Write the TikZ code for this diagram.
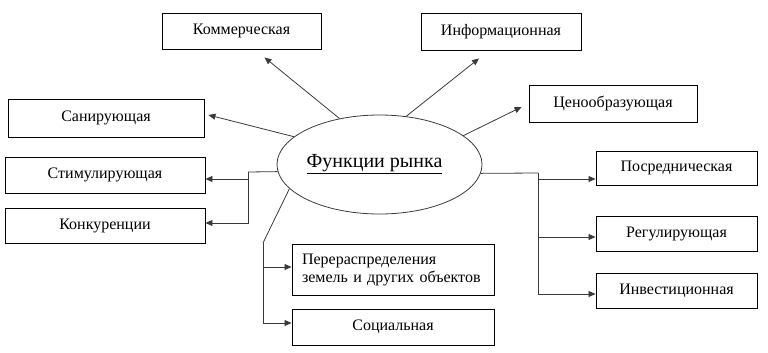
\documentclass[tikz,border=0pt]{standalone}
\usepackage{fontspec}
\setmainfont{Liberation Serif}
\usetikzlibrary{arrows.meta,shapes.geometric}
\definecolor{fnLine}{HTML}{3A3A3A}

\begin{document}
\begin{tikzpicture}[x=1pt, y=-1pt,
    b/.style={draw=black, line width=0.9pt, fill=white, inner sep=2pt,
      font=\fontsize{16}{18}\selectfont, align=center},
    ln/.style={draw=fnLine, line width=0.8pt},
    arr/.style={ln, -{Triangle[length=7pt,width=6pt]}}]
  \useasboundingbox (0,0) rectangle (768,353);
  \node[draw=fnLine, line width=0.8pt, ellipse, minimum width=205pt, minimum height=99pt,
    inner sep=0pt, font=\fontsize{20}{22}\selectfont] (fn) at (379.5,164.5)
    {\hspace*{-10pt}\raisebox{3pt}{\underline{Функции рынка}}};
  \node[b, minimum width=159pt, minimum height=36pt] (kom) at (241.5,31) {Коммерческая};
  \node[b, minimum width=160pt, minimum height=37pt] (inf) at (501,31.5) {Информационная};
  \node[b, minimum width=168pt, minimum height=37pt] (cen) at (613,103.5) {Ценообразующая};
  \node[b, minimum width=196pt, minimum height=38pt] (san) at (106,118) {Санирующая};
  \node[b, minimum width=200pt, minimum height=36pt] (stim) at (105,175) {Стимулирующая};
  \node[b, minimum width=200pt, minimum height=35pt] (konk) at (105,225.5) {Конкуренции};
  \node[b, minimum width=202pt, minimum height=51pt, align=left, text width=182pt] (pere) at (393,269.5)
    {Перераспределения\\земель и других объектов};
  \node[b, minimum width=202pt, minimum height=36pt] (soc) at (393,327) {Социальная};
  \node[b, minimum width=161pt, minimum height=34pt] (posr) at (676.5,168) {Посредническая};
  \node[b, minimum width=161pt, minimum height=35pt] (reg) at (676.5,233.5) {Регулирующая};
  \node[b, minimum width=161pt, minimum height=35pt] (inv) at (676.5,290.5) {Инвестиционная};
  \coordinate (lj) at (248,172);
  \coordinate (bj) at (263,243);
  \coordinate (rj) at (538,173);
  \draw[arr] (fn.131) -- ([shift={(23,8)}]kom.south);
  \draw[arr] (fn.61) -- ([shift={(-22,8)}]inf.south);
  \draw[arr] (fn.19) -- ([shift={(-7,3.5)}]cen.west);
  \draw[arr] (fn.162) -- ([shift={(4,-3)}]san.east);
  \draw[ln] (fn.184) -- (lj);
  \draw[arr] (lj) |- ([shift={(0,4)}]stim.east);
  \draw[arr] (lj) |- ([shift={(0,-2.5)}]konk.east);
  \draw[ln] (fn.195) -- (bj);
  \draw[arr] (bj) |- ([shift={(0,-2.5)}]pere.west);
  \draw[arr] (bj) |- ([shift={(0,-4)}]soc.west);
  \draw[ln] (fn.355) -- (rj);
  \draw[arr] (rj) |- ([shift={(0,11)}]posr.west);
  \draw[arr] (rj) |- ([shift={(0,3.5)}]reg.west);
  \draw[arr] (rj) |- ([shift={(0,3.5)}]inv.west);
\end{tikzpicture}
\end{document}
